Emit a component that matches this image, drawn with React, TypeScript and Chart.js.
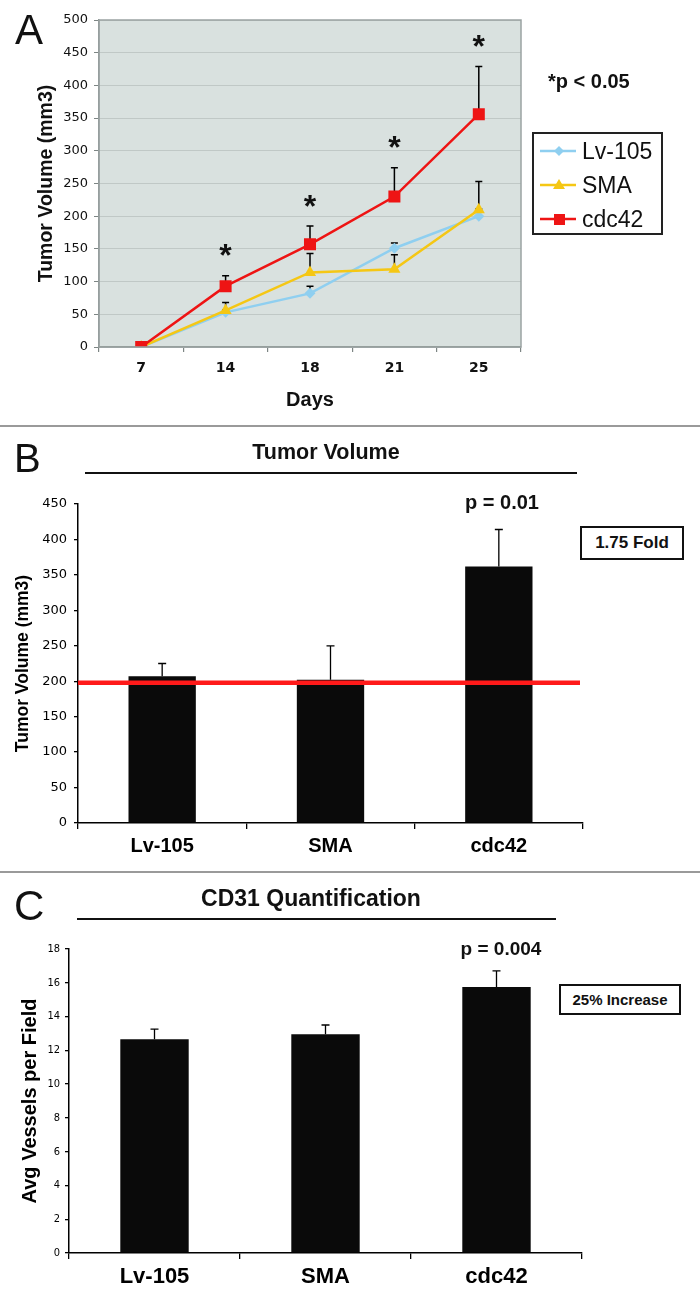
import React, { useEffect, useRef } from 'react';
import { Chart, registerables } from 'chart.js';

Chart.register(...registerables);

// ---------- Data ----------
// Panel A: tumor growth over time
const days = ['7', '14', '18', '21', '25'];
const lv105Volume = [0, 53, 82, 151, 200];
const lv105VolumeErr = [0, 4, 11, 8, 11];
const smaVolume = [0, 56, 114, 119, 210];
const smaVolumeErr = [0, 12, 29, 22, 43];
const cdc42Volume = [0, 93, 157, 230, 356];
const cdc42VolumeErr = [0, 16, 28, 44, 73];
const significantDays = [false, true, true, true, true];
const volumeAxisMaxA = 500;
const volumeAxisStepA = 50;

// Panel B: final tumor volume
const groups = ['Lv-105', 'SMA', 'cdc42'];
const finalVolume = [207, 202, 362];
const finalVolumeErr = [18, 48, 52];
const controlLevel = 198;
const volumeAxisMaxB = 450;
const volumeAxisStepB = 50;

// Panel C: CD31 quantification
const vessels = [12.65, 12.95, 15.75];
const vesselsErr = [0.6, 0.55, 0.95];
const vesselAxisMax = 18;
const vesselAxisStep = 2;

// ---------- Styles ----------
const SANS = "'Liberation Sans', Arial, Helvetica, sans-serif";
const VERDANA = "'DejaVu Sans', Verdana, sans-serif";
const VERDANA_C = "'DejaVu Sans Condensed', 'DejaVu Sans', sans-serif";

const BLUE = '#8fcff0';
const YELLOW = '#f5c714';
const RED = '#ee1414';

function drawErrorBar(ctx: CanvasRenderingContext2D, x: number, y0: number, y1: number, cap: number, lw: number) {
  ctx.save();
  ctx.strokeStyle = '#000';
  ctx.lineWidth = lw;
  ctx.beginPath();
  ctx.moveTo(x, y0);
  ctx.lineTo(x, y1);
  ctx.moveTo(x - cap, y1);
  ctx.lineTo(x + cap, y1);
  ctx.stroke();
  ctx.restore();
}

function LineChartA() {
  const ref = useRef<HTMLCanvasElement>(null);
  useEffect(() => {
    const canvas = ref.current!;
    const seriesVals = [cdc42Volume, smaVolume, lv105Volume];
    const seriesErrs = [cdc42VolumeErr, smaVolumeErr, lv105VolumeErr];
    const bgPlugin = {
      id: 'bgA',
      beforeDraw(chart: any) {
        const { ctx, chartArea: a } = chart;
        ctx.save();
        ctx.fillStyle = '#d9e1df';
        ctx.fillRect(a.left, a.top, a.right - a.left, a.bottom - a.top);
        ctx.restore();
      },
      afterDraw(chart: any) {
        const { ctx, chartArea: a } = chart;
        ctx.save();
        ctx.strokeStyle = '#9aa3a2';
        ctx.lineWidth = 1.5;
        ctx.strokeRect(a.left, a.top, a.right - a.left, a.bottom - a.top);
        ctx.restore();
      },
    };
    const errPlugin = {
      id: 'errA',
      beforeDatasetsDraw(chart: any) {
        const { ctx } = chart;
        const ys = chart.scales.y;
        for (let i = 0; i < seriesVals.length; i++) {
          const meta = chart.getDatasetMeta(i);
          seriesVals[i].forEach((v, j) => {
            const e = seriesErrs[i][j];
            if (!e) return;
            const x = meta.data[j].x;
            drawErrorBar(ctx, x, ys.getPixelForValue(v), ys.getPixelForValue(v + e), 3.5, 1.5);
          });
        }
      },
      afterDatasetsDraw(chart: any) {
        const { ctx } = chart;
        const ys = chart.scales.y;
        const meta = chart.getDatasetMeta(0);
        ctx.save();
        ctx.fillStyle = '#111';
        ctx.font = `bold 32px ${SANS}`;
        ctx.textAlign = 'center';
        ctx.textBaseline = 'alphabetic';
        significantDays.forEach((s, j) => {
          if (!s) return;
          const x = meta.data[j].x;
          const top = ys.getPixelForValue(cdc42Volume[j] + cdc42VolumeErr[j]);
          ctx.fillText('*', x, top - 26 + 16.5);
        });
        ctx.restore();
      },
    };
    const chart = new Chart(canvas, {
      type: 'line',
      data: {
        labels: days,
        datasets: [
          {
            label: 'cdc42', data: cdc42Volume, borderColor: RED, backgroundColor: RED,
            pointStyle: 'rect', pointRadius: 8.5, pointBorderWidth: 0, borderWidth: 2.5, tension: 0, order: 0,
          },
          {
            label: 'SMA', data: smaVolume, borderColor: YELLOW, backgroundColor: YELLOW,
            pointStyle: 'triangle', pointRadius: 7, pointBorderWidth: 0, borderWidth: 2.5, tension: 0, order: 1,
          },
          {
            label: 'Lv-105', data: lv105Volume, borderColor: BLUE, backgroundColor: BLUE,
            pointStyle: 'rectRot', pointRadius: 5.5, pointBorderWidth: 0, borderWidth: 2.5, tension: 0, order: 2,
          },
        ],
      },
      options: {
        responsive: false,
        animation: false,
        devicePixelRatio: 1,
        layout: { padding: { left: 35, top: 20, right: 179, bottom: 12 } },
        plugins: { legend: { display: false }, tooltip: { enabled: false } },
        scales: {
          x: {
            offset: true,
            grid: { offset: true, drawOnChartArea: false, tickLength: 5, tickColor: '#7d8584', lineWidth: 1.2 },
            border: { color: '#8a9291', width: 1.5 },
            ticks: { font: { family: VERDANA, size: 14, weight: 'bold' }, color: '#111', padding: 8 },
            title: { display: true, text: 'Days', font: { family: SANS, size: 20, weight: 'bold' }, color: '#111', padding: 0 },
            afterFit: (s: any) => { s.height = 65; },
          },
          y: {
            min: 0,
            max: volumeAxisMaxA,
            ticks: { stepSize: volumeAxisStepA, font: { family: VERDANA, size: 13 }, color: '#111', padding: 6 },
            grid: { color: '#c0c8c6', tickLength: 5, tickColor: '#7d8584', lineWidth: 1 },
            border: { color: '#8a9291', width: 1.5 },
            title: { display: true, text: 'Tumor Volume (mm3)', font: { family: SANS, size: 19.5, weight: 'bold' }, color: '#111', padding: 0 },
            afterFit: (s: any) => { s.width = 64; },
          },
        },
      },
      plugins: [bgPlugin, errPlugin],
    } as any);
    return () => chart.destroy();
  }, []);
  return <canvas ref={ref} width={700} height={424} style={{ position: 'absolute', left: 0, top: 0, width: 700, height: 424 }} />;
}

function makeBarChart(
  canvas: HTMLCanvasElement,
  values: number[],
  errs: number[],
  opts: {
    max: number; step: number; padding: any; yWidth: number; xHeight: number; tickPad: number;
    tickFont: any; xFont: any; title: string; titleFont: any; refLine?: number;
  },
) {
  const plugin = {
    id: 'barExtras',
    afterDatasetsDraw(chart: any) {
      const { ctx, chartArea: a } = chart;
      const ys = chart.scales.y;
      const meta = chart.getDatasetMeta(0);
      values.forEach((v, j) => {
        const x = meta.data[j].x;
        drawErrorBar(ctx, x, ys.getPixelForValue(v), ys.getPixelForValue(v + errs[j]), 4, 1.3);
      });
      if (opts.refLine !== undefined) {
        const y = ys.getPixelForValue(opts.refLine);
        ctx.save();
        ctx.strokeStyle = '#ff1a1a';
        ctx.lineWidth = 4.5;
        ctx.beginPath();
        ctx.moveTo(a.left, y);
        ctx.lineTo(a.right - 3, y);
        ctx.stroke();
        ctx.restore();
      }
    },
  };
  return new Chart(canvas, {
    type: 'bar',
    data: {
      labels: groups,
      datasets: [{ data: values, backgroundColor: '#0a0a0a', barPercentage: 0.4, categoryPercentage: 1 }],
    },
    options: {
      responsive: false,
      animation: false,
      devicePixelRatio: 1,
      layout: { padding: opts.padding },
      plugins: { legend: { display: false }, tooltip: { enabled: false } },
      scales: {
        x: {
          grid: { offset: true, drawOnChartArea: false, tickLength: 6, color: '#000', lineWidth: 1.3 },
          border: { color: '#000', width: 1.5 },
          ticks: { font: opts.xFont, color: '#000', padding: 5 },
          afterFit: (s: any) => { s.height = opts.xHeight; },
        },
        y: {
          min: 0,
          max: opts.max,
          ticks: { stepSize: opts.step, font: opts.tickFont, color: '#000', padding: opts.tickPad },
          grid: { drawOnChartArea: false, tickLength: 4, color: '#000', lineWidth: 1.3 },
          border: { color: '#000', width: 1.5 },
          title: { display: true, text: opts.title, font: opts.titleFont, color: '#000', padding: 0 },
          afterFit: (s: any) => { s.width = opts.yWidth; },
        },
      },
    },
    plugins: [plugin],
  } as any);
}

function BarChartB() {
  const ref = useRef<HTMLCanvasElement>(null);
  useEffect(() => {
    const chart = makeBarChart(ref.current!, finalVolume, finalVolumeErr, {
      max: volumeAxisMaxB,
      step: volumeAxisStepB,
      padding: { left: 13, top: 76, right: 117, bottom: 5 },
      yWidth: 65,
      xHeight: 40,
      tickPad: 7,
      tickFont: { family: VERDANA, size: 13 },
      xFont: { family: SANS, size: 20, weight: 'bold' },
      title: 'Tumor Volume (mm3)',
      titleFont: { family: SANS, size: 17.5, weight: 'bold' },
      refLine: controlLevel,
    });
    return () => chart.destroy();
  }, []);
  return <canvas ref={ref} width={700} height={440} style={{ position: 'absolute', left: 0, top: 428, width: 700, height: 440 }} />;
}

function BarChartC() {
  const ref = useRef<HTMLCanvasElement>(null);
  useEffect(() => {
    const chart = makeBarChart(ref.current!, vessels, vesselsErr, {
      max: vesselAxisMax,
      step: vesselAxisStep,
      padding: { left: 18, top: 75, right: 118, bottom: 7 },
      yWidth: 51,
      xHeight: 45,
      tickPad: 5,
      tickFont: { family: VERDANA_C, size: 11 },
      xFont: { family: SANS, size: 22, weight: 'bold' },
      title: 'Avg Vessels per Field',
      titleFont: { family: SANS, size: 20, weight: 'bold' },
    });
    return () => chart.destroy();
  }, []);
  return <canvas ref={ref} width={700} height={431} style={{ position: 'absolute', left: 0, top: 874, width: 700, height: 431 }} />;
}

// Text placed by its baseline
function T(props: { text: string; x: number; baseline: number; size: number; bold?: boolean; center?: boolean }) {
  const { text, x, baseline, size, bold = false, center = false } = props;
  const style: React.CSSProperties = {
    position: 'absolute',
    top: baseline - 0.85 * size,
    fontSize: size,
    lineHeight: `${size}px`,
    fontFamily: SANS,
    fontWeight: bold ? 'bold' : 'normal',
    whiteSpace: 'nowrap',
    color: '#111',
  };
  if (center) {
    style.left = x - 200;
    style.width = 400;
    style.textAlign = 'center';
  } else {
    style.left = x;
  }
  return <div style={style}>{text}</div>;
}

function HLine(props: { x1: number; x2: number; y: number; h: number; color: string }) {
  return <div style={{ position: 'absolute', left: props.x1, top: props.y - props.h / 2, width: props.x2 - props.x1, height: props.h, background: props.color }} />;
}

function Box(props: { x: number; y: number; w: number; h: number; text: string; size: number }) {
  return (
    <div style={{
      position: 'absolute', left: props.x, top: props.y, width: props.w, height: props.h, boxSizing: 'border-box',
      border: '2px solid #111', display: 'flex', alignItems: 'center', justifyContent: 'center', background: '#fff',
      whiteSpace: 'nowrap', fontFamily: SANS, fontWeight: 'bold', fontSize: props.size, color: '#111',
    }}>{props.text}</div>
  );
}

function LegendA() {
  const rows = [
    { label: 'Lv-105', color: BLUE, marker: 'diamond' },
    { label: 'SMA', color: YELLOW, marker: 'triangle' },
    { label: 'cdc42', color: RED, marker: 'square' },
  ];
  return (
    <div style={{ position: 'absolute', left: 532, top: 132, width: 131, height: 103, boxSizing: 'border-box', border: '2px solid #222', background: '#fff' }}>
      {rows.map((r, i) => (
        <div key={r.label} style={{ position: 'absolute', left: 0, top: 2 + i * 34, height: 30, width: 127 }}>
          <svg width={40} height={30} style={{ position: 'absolute', left: 4, top: 0 }}>
            <line x1={2} y1={15} x2={38} y2={15} stroke={r.color} strokeWidth={2.5} />
            {r.marker === 'diamond' && <polygon points="21,10 26,15 21,20 16,15" fill={r.color} />}
            {r.marker === 'triangle' && <polygon points="21,9 27,19 15,19" fill={r.color} />}
            {r.marker === 'square' && <rect x={16} y={10} width={11} height={11} fill={r.color} />}
          </svg>
          <div style={{ position: 'absolute', left: 48, top: 0, lineHeight: '30px', fontSize: 23, fontFamily: SANS, color: '#111', whiteSpace: 'nowrap' }}>{r.label}</div>
        </div>
      ))}
    </div>
  );
}

export default function App() {
  return (
    <div style={{ position: 'absolute', left: 0, top: 0, width: 700, height: 1305, background: '#fff', overflow: 'hidden' }}>
      <LineChartA />
      <T text="A" x={15} baseline={45} size={42} />
      <T text="*p < 0.05" x={548} baseline={88} size={20} bold />
      <LegendA />

      <HLine x1={0} x2={700} y={426} h={1.5} color="#9a9a9a" />

      <BarChartB />
      <T text="B" x={14} baseline={472} size={40} />
      <T text="Tumor Volume" x={326} baseline={460} size={21.5} bold center />
      <HLine x1={85} x2={577} y={473} h={2.5} color="#111" />
      <T text="p = 0.01" x={502} baseline={509} size={20} bold center />
      <Box x={580} y={526} w={104} h={34} text="1.75 Fold" size={17} />

      <HLine x1={0} x2={700} y={872} h={1.5} color="#9a9a9a" />

      <BarChartC />
      <T text="C" x={14} baseline={921} size={42} />
      <T text="CD31 Quantification" x={311} baseline={907} size={23} bold center />
      <HLine x1={77} x2={556} y={919} h={2.5} color="#111" />
      <T text="p = 0.004" x={501} baseline={955} size={19} bold center />
      <Box x={559} y={984} w={122} h={31} text="25% Increase" size={15} />
    </div>
  );
}
